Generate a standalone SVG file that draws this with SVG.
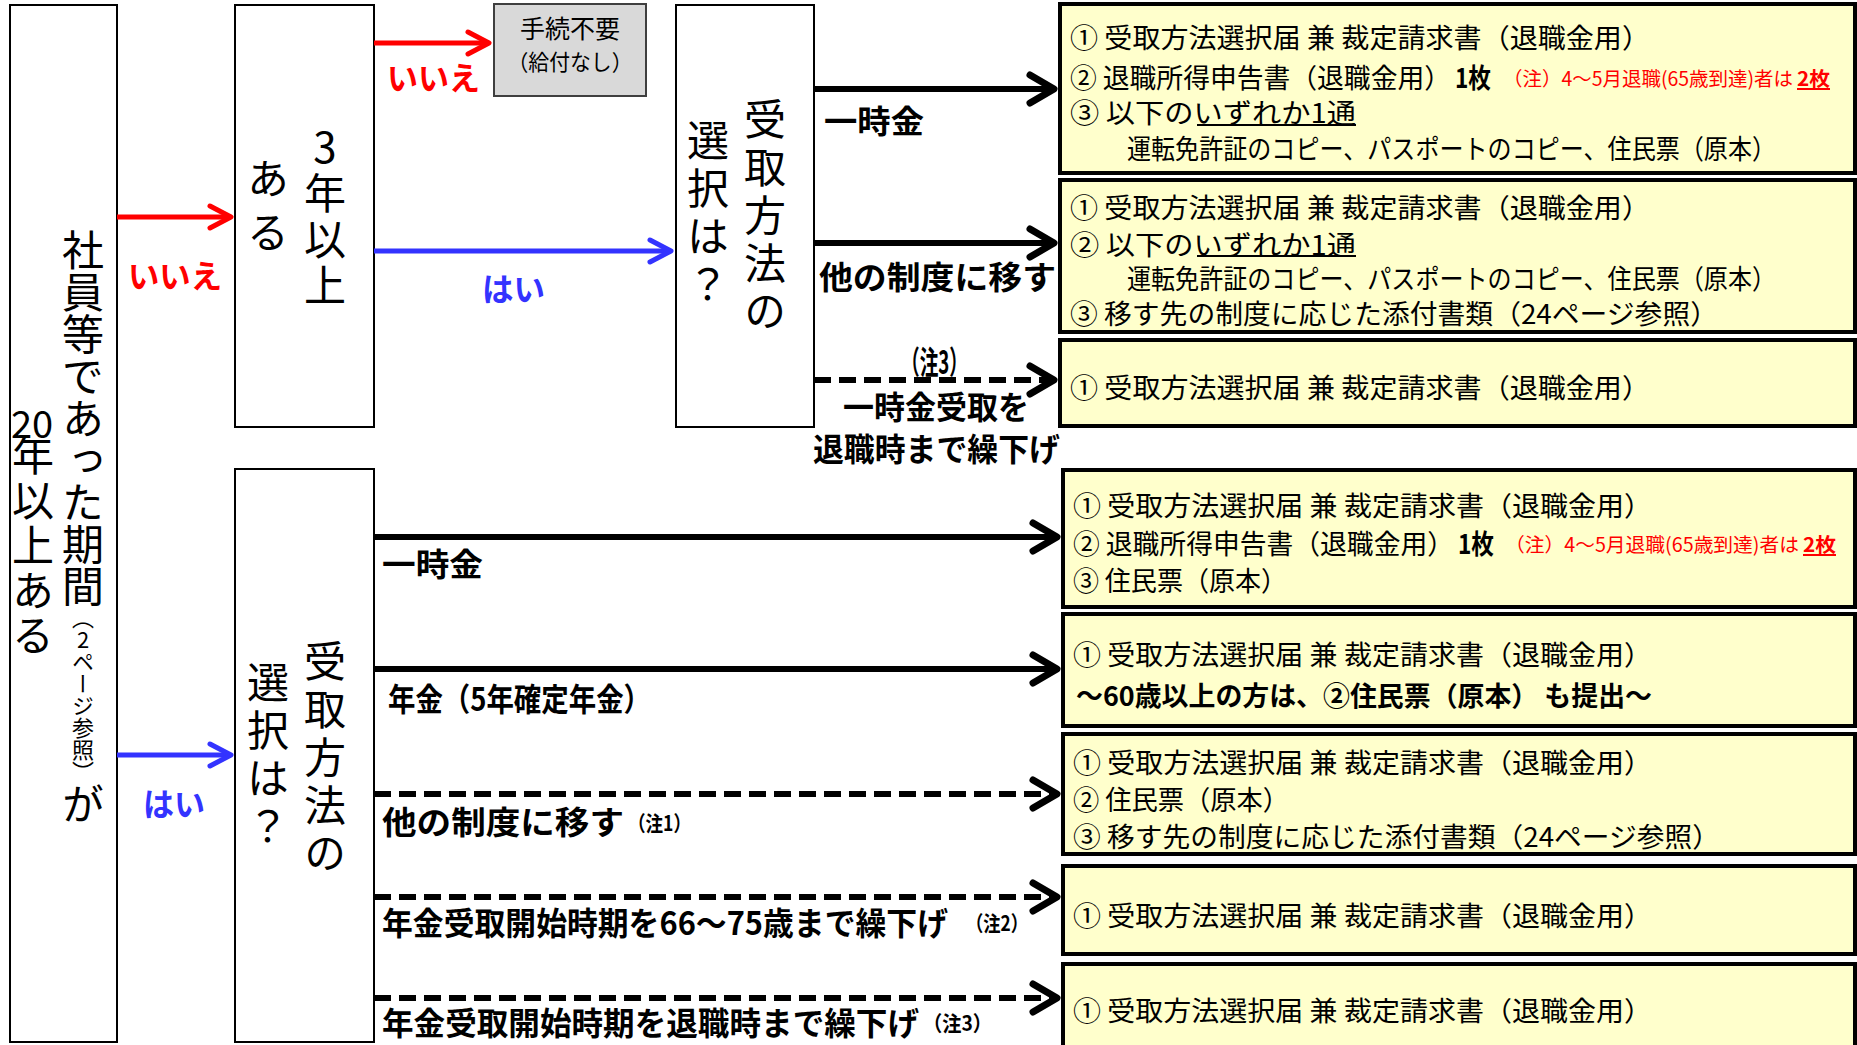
<svg xmlns="http://www.w3.org/2000/svg" width="1857" height="1045" viewBox="0 0 1857 1045">
<defs>
<style>
text { font-family: "Noto Sans CJK JP", "Noto Sans", sans-serif; fill: #000; }
.box { fill: #fff; stroke: #000; stroke-width: 2; }
.ybox { fill: #ffffcc; stroke: #000; stroke-width: 4; }
.gbox { fill: #d9d9d9; stroke: #3f3f3f; stroke-width: 2; }
.vt { writing-mode: vertical-rl; text-orientation: upright; font-size: 42px; text-anchor: middle; }
.lbl { font-weight: bold; font-size: 32px; dominant-baseline: central; }
.note { font-weight: bold; font-size: 21px; dominant-baseline: central; }
.bt { font-size: 27px; dominant-baseline: central; }
.rn { font-size: 19.5px; dominant-baseline: central; fill: #ff0000; }
.red { fill: #ff0000; }
.blue { fill: #3333ff; }
.b { font-weight: bold; }
.kline { fill: none; stroke: #000; stroke-width: 6; }
.rline { fill: none; stroke: #ff0000; stroke-width: 5; }
.bline { fill: none; stroke: #3333ff; stroke-width: 5; }
.dash { stroke-dasharray: 17 8; }
.ul { stroke: #000; stroke-width: 2; }
.ulr { stroke: #ff0000; stroke-width: 2; }
</style>
<marker id="ahK" markerUnits="userSpaceOnUse" markerWidth="40" markerHeight="40" viewBox="-30 -20 40 40" refX="0" refY="0" orient="auto" overflow="visible">
<path d="M -24 -14 L 0 0 L -24 14" fill="none" stroke="#000" stroke-width="7" stroke-linecap="round" stroke-linejoin="round" stroke-dasharray="none"/>
</marker>
<marker id="ahR" markerUnits="userSpaceOnUse" markerWidth="40" markerHeight="40" viewBox="-30 -20 40 40" refX="0" refY="0" orient="auto" overflow="visible">
<path d="M -21 -11 L 0 0 L -21 11" fill="none" stroke="#ff0000" stroke-width="5" stroke-linecap="round" stroke-linejoin="round"/>
</marker>
<marker id="ahB" markerUnits="userSpaceOnUse" markerWidth="40" markerHeight="40" viewBox="-30 -20 40 40" refX="0" refY="0" orient="auto" overflow="visible">
<path d="M -21 -11 L 0 0 L -21 11" fill="none" stroke="#3333ff" stroke-width="5" stroke-linecap="round" stroke-linejoin="round"/>
</marker>
</defs>
<rect width="1857" height="1045" fill="#fff"/>

<g id="node-period">
<rect class="box" x="10" y="5" width="107" height="1037"/>
<text class="vt" x="83" y="527" font-size="39.5">社員等であった期間<tspan font-size="22">（2ページ参照）</tspan>が</text>
<text x="32" y="421" font-size="38" text-anchor="middle" dominant-baseline="central">20</text>
<text class="vt" x="33" y="547" letter-spacing="3">年以上ある</text>
</g>

<g id="node-3years">
<rect class="box" x="235" y="5" width="139" height="422"/>
<text class="vt" x="325" y="218" letter-spacing="4">3年以上</text>
<text class="vt" x="268" y="211" letter-spacing="12">ある</text>
</g>

<g id="node-nobenefit">
<rect class="gbox" x="494" y="4" width="152" height="92"/>
<text x="570" y="27" font-size="25" text-anchor="middle" dominant-baseline="central">手続不要</text>
<text x="570" y="60" font-size="22" text-anchor="middle" dominant-baseline="central" textLength="125" lengthAdjust="spacingAndGlyphs">（給付なし）</text>
</g>

<g id="node-choice-top">
<rect class="box" x="676" y="5" width="138" height="422"/>
<text class="vt" x="765" y="218" letter-spacing="6">受取方法の</text>
<text class="vt" x="708" y="215" letter-spacing="6">選択は？</text>
</g>

<g id="node-choice-bottom">
<rect class="box" x="235" y="469" width="139" height="573"/>
<text class="vt" x="325" y="760" letter-spacing="6">受取方法の</text>
<text class="vt" x="268" y="757" letter-spacing="6">選択は？</text>
</g>

<g id="node-docs-a">
<rect class="ybox" x="1060" y="4" width="795" height="169"/>
<text class="bt" x="1070" y="36" textLength="580" lengthAdjust="spacingAndGlyphs">① 受取方法選択届 兼 裁定請求書（退職金用）</text>
<text class="bt" x="1070" y="76" font-size="26.5" textLength="381" lengthAdjust="spacingAndGlyphs">② 退職所得申告書（退職金用）</text>
<text class="bt b" x="1455" y="76" font-size="25" textLength="36" lengthAdjust="spacingAndGlyphs">1枚</text>
<text class="rn" x="1503" y="77" textLength="290" lengthAdjust="spacingAndGlyphs">（注）4～5月退職(65歳到達)者は</text>
<text class="rn b" x="1797" y="77" font-size="20" textLength="33" lengthAdjust="spacingAndGlyphs">2枚</text>
<line class="ulr" x1="1797" y1="89" x2="1830" y2="89"/>
<text class="bt" x="1070" y="111" font-size="26" textLength="286" lengthAdjust="spacingAndGlyphs">③ 以下のいずれか1通</text>
<line class="ul" x1="1197" y1="125" x2="1356" y2="125"/>
<text class="bt" x="1127" y="147" font-size="25.5" textLength="649" lengthAdjust="spacingAndGlyphs">運転免許証のコピー、パスポートのコピー、住民票（原本）</text>
</g>

<g id="node-docs-b">
<rect class="ybox" x="1060" y="180" width="795" height="152"/>
<text class="bt" x="1070" y="206" textLength="580" lengthAdjust="spacingAndGlyphs">① 受取方法選択届 兼 裁定請求書（退職金用）</text>
<text class="bt" x="1070" y="243" font-size="26" textLength="286" lengthAdjust="spacingAndGlyphs">② 以下のいずれか1通</text>
<line class="ul" x1="1197" y1="256" x2="1356" y2="256"/>
<text class="bt" x="1127" y="277" font-size="25.5" textLength="649" lengthAdjust="spacingAndGlyphs">運転免許証のコピー、パスポートのコピー、住民票（原本）</text>
<text class="bt" x="1070" y="312" textLength="648" lengthAdjust="spacingAndGlyphs">③ 移す先の制度に応じた添付書類（24ページ参照）</text>
</g>

<g id="node-docs-c">
<rect class="ybox" x="1060" y="340" width="795" height="86"/>
<text class="bt" x="1070" y="386" textLength="580" lengthAdjust="spacingAndGlyphs">① 受取方法選択届 兼 裁定請求書（退職金用）</text>
</g>

<g id="node-docs-d">
<rect class="ybox" x="1063" y="470" width="792" height="137"/>
<text class="bt" x="1073" y="504" textLength="579" lengthAdjust="spacingAndGlyphs">① 受取方法選択届 兼 裁定請求書（退職金用）</text>
<text class="bt" x="1073" y="542" font-size="26.5" textLength="381" lengthAdjust="spacingAndGlyphs">② 退職所得申告書（退職金用）</text>
<text class="bt b" x="1458" y="542" font-size="25" textLength="36" lengthAdjust="spacingAndGlyphs">1枚</text>
<text class="rn" x="1505" y="543" textLength="294" lengthAdjust="spacingAndGlyphs">（注）4～5月退職(65歳到達)者は</text>
<text class="rn b" x="1803" y="543" font-size="20" textLength="33" lengthAdjust="spacingAndGlyphs">2枚</text>
<line class="ulr" x1="1803" y1="555" x2="1836" y2="555"/>
<text class="bt" x="1073" y="579" font-size="26" textLength="214" lengthAdjust="spacingAndGlyphs">③ 住民票（原本）</text>
</g>

<g id="node-docs-e">
<rect class="ybox" x="1063" y="614" width="792" height="112"/>
<text class="bt" x="1073" y="653" textLength="579" lengthAdjust="spacingAndGlyphs">① 受取方法選択届 兼 裁定請求書（退職金用）</text>
<text class="bt b" x="1076" y="694" textLength="576" lengthAdjust="spacingAndGlyphs">～60歳以上の方は、②住民票（原本） も提出～</text>
</g>

<g id="node-docs-f">
<rect class="ybox" x="1063" y="734" width="792" height="120"/>
<text class="bt" x="1073" y="761" textLength="579" lengthAdjust="spacingAndGlyphs">① 受取方法選択届 兼 裁定請求書（退職金用）</text>
<text class="bt" x="1073" y="798" font-size="25.5" textLength="216" lengthAdjust="spacingAndGlyphs">② 住民票（原本）</text>
<text class="bt" x="1073" y="835" textLength="647" lengthAdjust="spacingAndGlyphs">③ 移す先の制度に応じた添付書類（24ページ参照）</text>
</g>

<g id="node-docs-g">
<rect class="ybox" x="1063" y="866" width="792" height="88"/>
<text class="bt" x="1073" y="914" textLength="579" lengthAdjust="spacingAndGlyphs">① 受取方法選択届 兼 裁定請求書（退職金用）</text>
</g>

<g id="node-docs-h">
<rect class="ybox" x="1063" y="964" width="792" height="90"/>
<text class="bt" x="1073" y="1009" textLength="579" lengthAdjust="spacingAndGlyphs">① 受取方法選択届 兼 裁定請求書（退職金用）</text>
</g>

<g id="connectors">
<line class="rline" x1="117" y1="217" x2="231" y2="217" marker-end="url(#ahR)"/>
<text class="lbl red" x="128" y="274" font-size="31" textLength="94" lengthAdjust="spacingAndGlyphs">いいえ</text>
<line class="rline" x1="374" y1="43" x2="489" y2="43" marker-end="url(#ahR)"/>
<text class="lbl red" x="387" y="76" font-size="31" textLength="93" lengthAdjust="spacingAndGlyphs">いいえ</text>
<line class="bline" x1="374" y1="251" x2="671" y2="251" marker-end="url(#ahB)"/>
<text class="lbl blue" x="482" y="287" font-size="31" textLength="63" lengthAdjust="spacingAndGlyphs">はい</text>
<line class="bline" x1="117" y1="755" x2="231" y2="755" marker-end="url(#ahB)"/>
<text class="lbl blue" x="143" y="802" font-size="31" textLength="62" lengthAdjust="spacingAndGlyphs">はい</text>

<line class="kline" x1="814" y1="89" x2="1054" y2="89" marker-end="url(#ahK)"/>
<text class="lbl" x="824" y="119" font-size="34" textLength="100" lengthAdjust="spacingAndGlyphs">一時金</text>
<line class="kline" x1="814" y1="243" x2="1054" y2="243" marker-end="url(#ahK)"/>
<text class="lbl" x="819" y="275" font-size="34" textLength="237" lengthAdjust="spacingAndGlyphs">他の制度に移す</text>
<line class="kline dash" x1="814" y1="380" x2="1054" y2="380" marker-end="url(#ahK)"/>
<text class="lbl" x="901" y="360" font-size="23" textLength="67" lengthAdjust="spacingAndGlyphs">（注3）</text>
<text class="lbl" x="843" y="405" font-size="30" textLength="186" lengthAdjust="spacingAndGlyphs">一時金受取を</text>
<text class="lbl" x="813" y="447" font-size="30" textLength="247" lengthAdjust="spacingAndGlyphs">退職時まで繰下げ</text>

<line class="kline" x1="374" y1="537" x2="1057" y2="537" marker-end="url(#ahK)"/>
<text class="lbl" x="382" y="562" font-size="34" textLength="101" lengthAdjust="spacingAndGlyphs">一時金</text>
<line class="kline" x1="374" y1="669" x2="1057" y2="669" marker-end="url(#ahK)"/>
<text class="lbl" x="388" y="697" font-size="31" textLength="263" lengthAdjust="spacingAndGlyphs">年金（5年確定年金）</text>
<line class="kline dash" x1="374" y1="794" x2="1057" y2="794" marker-end="url(#ahK)"/>
<text class="lbl" x="382" y="820" font-size="34" textLength="242" lengthAdjust="spacingAndGlyphs">他の制度に移す</text>
<text class="note" x="628" y="822" textLength="63" lengthAdjust="spacingAndGlyphs">（注1）</text>
<line class="kline dash" x1="374" y1="897" x2="1057" y2="897" marker-end="url(#ahK)"/>
<text class="lbl" x="382" y="921" font-size="28.5" textLength="566" lengthAdjust="spacingAndGlyphs">年金受取開始時期を66～75歳まで繰下げ</text>
<text class="note" x="966" y="922" textLength="62" lengthAdjust="spacingAndGlyphs">（注2）</text>
<line class="kline dash" x1="374" y1="998" x2="1057" y2="998" marker-end="url(#ahK)"/>
<text class="lbl" x="382" y="1021" font-size="31" textLength="537" lengthAdjust="spacingAndGlyphs">年金受取開始時期を退職時まで繰下げ</text>
<text class="note" x="923" y="1022" textLength="69" lengthAdjust="spacingAndGlyphs">（注3）</text>
</g>
</svg>
